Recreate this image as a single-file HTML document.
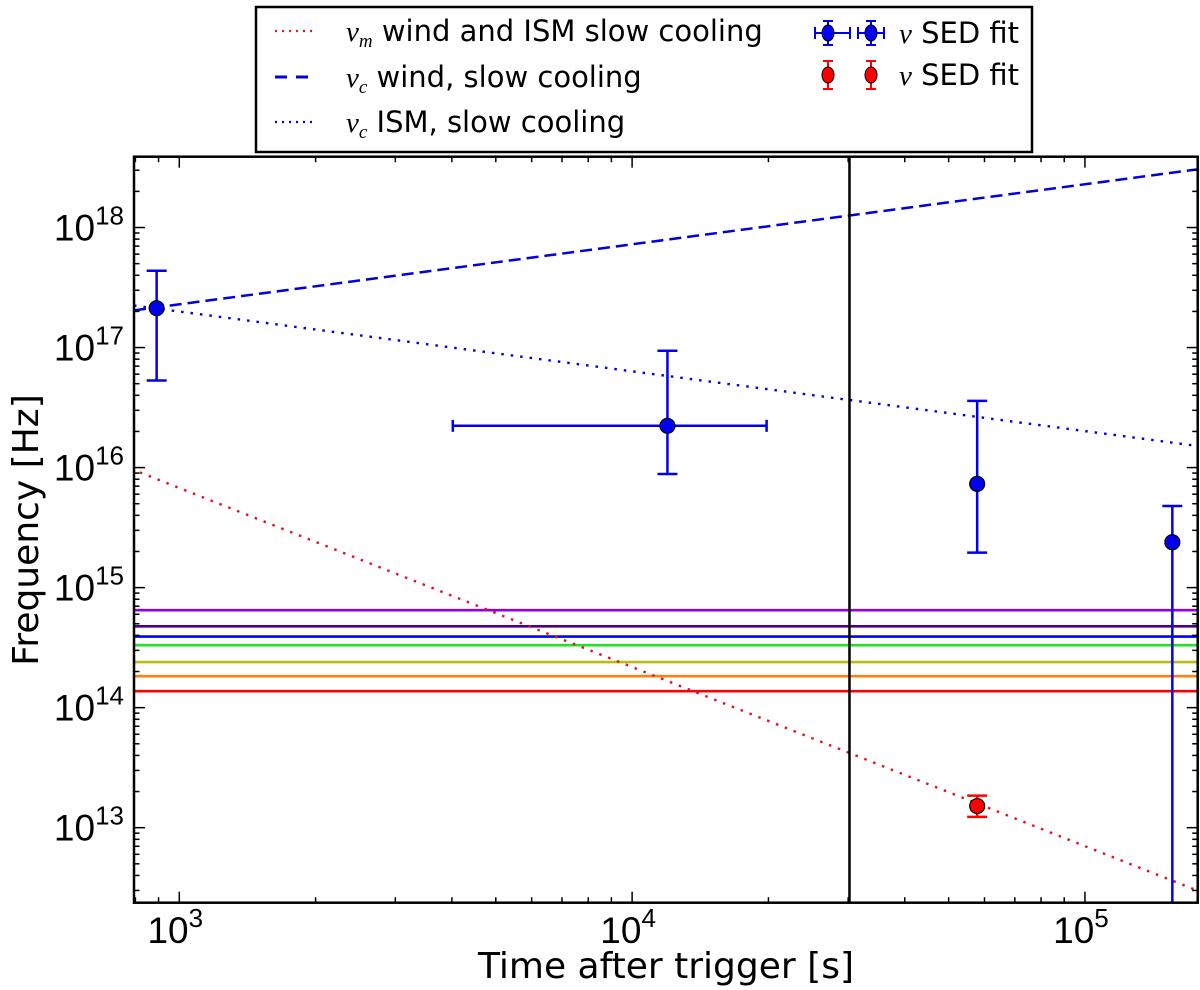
<!DOCTYPE html>
<html><head><meta charset="utf-8"><style>
html,body{margin:0;padding:0;background:#fff;}
svg{display:block;font-family:"Liberation Sans","DejaVu Sans",sans-serif;}
.dv{font-family:"DejaVu Sans","Liberation Sans",sans-serif;}
</style></head><body>
<svg id="chart" width="1200" height="990" viewBox="0 0 1200 990" xmlns="http://www.w3.org/2000/svg">
<g id="plot"></g>
<g id="legend" class="dv">
  <rect x="256" y="7" width="776" height="145" fill="#fff" stroke="#000" stroke-width="2.5"/>
  <g>
    <line x1="275" y1="31" x2="316" y2="31" stroke="#e41a1c" stroke-width="2.2" stroke-dasharray="2,5"/>
    <text x="346" y="41" font-size="29"><tspan font-family="Liberation Serif" font-style="italic">ν</tspan><tspan font-family="Liberation Serif" font-style="italic" font-size="19" dy="6">m</tspan><tspan dy="-6"> wind and ISM slow cooling</tspan></text>
  </g>
  <g>
    <line x1="275" y1="77" x2="316" y2="77" stroke="#0000dd" stroke-width="3" stroke-dasharray="12,9"/>
    <text x="346" y="87" font-size="29"><tspan font-family="Liberation Serif" font-style="italic">ν</tspan><tspan font-family="Liberation Serif" font-style="italic" font-size="19" dy="6">c</tspan><tspan dy="-6"> wind, slow cooling</tspan></text>
  </g>
  <g>
    <line x1="275" y1="122" x2="316" y2="122" stroke="#0000dd" stroke-width="2.2" stroke-dasharray="2,5"/>
    <text x="346" y="132" font-size="29"><tspan font-family="Liberation Serif" font-style="italic">ν</tspan><tspan font-family="Liberation Serif" font-style="italic" font-size="19" dy="6">c</tspan><tspan dy="-6"> ISM, slow cooling</tspan></text>
  </g>
  <g stroke="#0000dd" stroke-width="2">
    <line x1="815" y1="33" x2="850" y2="33"/><line x1="815" y1="27" x2="815" y2="39"/><line x1="850" y1="27" x2="850" y2="39"/>
    <line x1="828" y1="21" x2="828" y2="45"/><line x1="823" y1="21" x2="833" y2="21"/><line x1="823" y1="45" x2="833" y2="45"/>
    <ellipse cx="828" cy="33" rx="6" ry="8" fill="#0000ff" stroke="#000" stroke-width="1"/>
    <line x1="858" y1="33" x2="884" y2="33"/><line x1="858" y1="27" x2="858" y2="39"/><line x1="884" y1="27" x2="884" y2="39"/>
    <line x1="871" y1="21" x2="871" y2="45"/><line x1="866" y1="21" x2="876" y2="21"/><line x1="866" y1="45" x2="876" y2="45"/>
    <ellipse cx="871" cy="33" rx="6" ry="8" fill="#0000ff" stroke="#000" stroke-width="1"/>
    <text x="899" y="43" font-size="29" stroke="none" fill="#000"><tspan font-family="Liberation Serif" font-style="italic">ν</tspan> SED fit</text>
  </g>
  <g stroke="#ff0000" stroke-width="2">
    <line x1="828" y1="61" x2="828" y2="89"/><line x1="823" y1="61" x2="833" y2="61"/><line x1="823" y1="89" x2="833" y2="89"/>
    <ellipse cx="828" cy="75" rx="6" ry="8" fill="#ff0000" stroke="#000" stroke-width="1"/>
    <line x1="871" y1="61" x2="871" y2="89"/><line x1="866" y1="61" x2="876" y2="61"/><line x1="866" y1="89" x2="876" y2="89"/>
    <ellipse cx="871" cy="75" rx="6" ry="8" fill="#ff0000" stroke="#000" stroke-width="1"/>
    <text x="899" y="85" font-size="29" stroke="none" fill="#000"><tspan font-family="Liberation Serif" font-style="italic">ν</tspan> SED fit</text>
  </g>
</g>
</svg>
<script>
// ---- data (log10 values) ----
const xDomain = [2.9, 5.249];           // log10 time
const yDomain = [12.375, 18.59];        // log10 frequency
const xTickExps = [3, 4, 5];
const yTickExps = [13, 14, 15, 16, 17, 18];
const windLineT = [2.9, 5.249];
const windLineNu = [17.31, 18.485];
const ismLineT = [2.9, 5.249];
const ismLineNu = [17.35, 16.18];
const numLineT = [2.913, 5.249];
const numLineNu = [15.96, 12.475];
const bandNu = [14.812, 14.678, 14.592, 14.52, 14.38, 14.262, 14.137];
const bandColors = ['#9400e0', '#4b0082', '#0000ff', '#22e022', '#bbbb11', '#ff8010', '#ff0000'];
const blueT = [2.95, 4.078, 4.762, 5.193];
const blueNu = [17.328, 16.348, 15.864, 15.378];
const blueNuHi = [17.64, 16.973, 16.556, 15.68];
const blueNuLo = [16.725, 15.947, 15.292, 12.0];
const blueTLo = [null, 3.604, null, null];
const blueTHi = [null, 4.297, null, null];
const redT = [4.762];
const redNu = [13.18];
const redNuHi = [13.267];
const redNuLo = [13.09];
const vlineT = [4.48];

const L = 134, R = 1197.7, T = 156.7, B = 902.7;
const NS = 'http://www.w3.org/2000/svg';
const plot = document.getElementById('plot');
function X(v){ return L + (v - xDomain[0]) / (xDomain[1] - xDomain[0]) * (R - L); }
function Y(v){ return B - (v - yDomain[0]) / (yDomain[1] - yDomain[0]) * (B - T); }
function mk(tag, attrs, parent){
  const e = document.createElementNS(NS, tag);
  for (const k in attrs) e.setAttribute(k, attrs[k]);
  (parent || plot).appendChild(e);
  return e;
}
const clipDefs = mk('defs', {});
const cp = mk('clipPath', {id: 'clip'}, clipDefs);
mk('rect', {x: L, y: T, width: R - L, height: B - T}, cp);
const inner = mk('g', {'clip-path': 'url(#clip)'});



bandNu.forEach((v, i) => {
  const l = mk('line', {x1: L, x2: R, y1: Y(v), y2: Y(v), stroke: bandColors[i], 'stroke-width': 2.6}, inner);
  
  
});
let ln = mk('line', {x1: X(windLineT[0]), y1: Y(windLineNu[0]), x2: X(windLineT[1]), y2: Y(windLineNu[1]), stroke: '#0000dd', 'stroke-width': 2.5, 'stroke-dasharray': '12,6'}, inner);


ln = mk('line', {x1: X(ismLineT[0]), y1: Y(ismLineNu[0]), x2: X(ismLineT[1]), y2: Y(ismLineNu[1]), stroke: '#0000dd', 'stroke-width': 2.4, 'stroke-dasharray': '2.5,7'}, inner);


ln = mk('line', {x1: X(numLineT[0]), y1: Y(numLineNu[0]), x2: X(numLineT[1]), y2: Y(numLineNu[1]), stroke: '#dd1122', 'stroke-width': 2.4, 'stroke-dasharray': '2.5,7'}, inner);


vlineT.forEach(v => {
  const l = mk('line', {x1: X(v), x2: X(v), y1: T, y2: B, stroke: '#000', 'stroke-width': 2.5}, inner);
  
  
});
function point(t, nu, hi, lo, tlo, thi, color, name){
  const g = mk('g', {stroke: color, 'stroke-width': 2.5}, inner);
  
  
  const x = X(t), y = Y(nu);
  mk('line', {x1: x, x2: x, y1: Y(hi), y2: Y(lo)}, g);
  mk('line', {x1: x - 10, x2: x + 10, y1: Y(hi), y2: Y(hi)}, g);
  mk('line', {x1: x - 10, x2: x + 10, y1: Y(lo), y2: Y(lo)}, g);
  if (tlo !== null) {
    mk('line', {x1: X(tlo), x2: X(thi), y1: y, y2: y}, g);
    mk('line', {x1: X(tlo), x2: X(tlo), y1: y - 6, y2: y + 6}, g);
    mk('line', {x1: X(thi), x2: X(thi), y1: y - 6, y2: y + 6}, g);
  }
  mk('circle', {cx: x, cy: y, r: 7.5, fill: color, stroke: '#000', 'stroke-width': 1.2}, g);
}
blueT.forEach((t, i) => point(t, blueNu[i], blueNuHi[i], blueNuLo[i], blueTLo[i], blueTHi[i], '#0000ee', 'blue-sed-point'));
redT.forEach((t, i) => point(t, redNu[i], redNuHi[i], redNuLo[i], null, null, '#ff0000', 'red-sed-point'));

const tickG = mk('g', {stroke: '#000', 'stroke-width': 1.5});


for (let d = Math.floor(xDomain[0]); d <= Math.ceil(xDomain[1]); d++) {
  for (let m = 1; m <= 9; m++) {
    const v = d + Math.log10(m);
    if (v < xDomain[0] || v > xDomain[1]) continue;
    const len = m === 1 ? 11 : 5.5;
    const x = X(v);
    mk('line', {x1: x, x2: x, y1: B, y2: B - len}, tickG);
    mk('line', {x1: x, x2: x, y1: T, y2: T + len}, tickG);
  }
}
for (let d = Math.floor(yDomain[0]); d <= Math.ceil(yDomain[1]); d++) {
  for (let m = 1; m <= 9; m++) {
    const v = d + Math.log10(m);
    if (v < yDomain[0] || v > yDomain[1]) continue;
    const len = m === 1 ? 11 : 5.5;
    const y = Y(v);
    mk('line', {x1: L, x2: L + len, y1: y, y2: y}, tickG);
    mk('line', {x1: R, x2: R - len, y1: y, y2: y}, tickG);
  }
}
const frame = mk('rect', {x: L, y: T, width: R - L, height: B - T, fill: 'none', stroke: '#000', 'stroke-width': 2.5});



xTickExps.forEach(e => {
  const t = mk('text', {x: X(e) - 4, y: 943, 'font-size': 37, 'text-anchor': 'middle'});
  
  
  t.innerHTML = '10<tspan font-size="26" dy="-16">' + e + '</tspan>';
});
yTickExps.forEach(e => {
  const t = mk('text', {x: 124, y: Y(e) + 13, 'font-size': 37, 'text-anchor': 'end'});
  
  
  t.innerHTML = '10<tspan font-size="26" dy="-16">' + e + '</tspan>';
});
let at = mk('text', {x: 666, y: 978, 'font-size': 36, 'text-anchor': 'middle', 'class': 'dv'});


at.textContent = 'Time after trigger [s]';
at = mk('text', {x: 0, y: 0, 'font-size': 36, 'text-anchor': 'middle', 'class': 'dv', transform: 'translate(38,530) rotate(-90)'});


at.textContent = 'Frequency [Hz]';
</script>
</body></html>
